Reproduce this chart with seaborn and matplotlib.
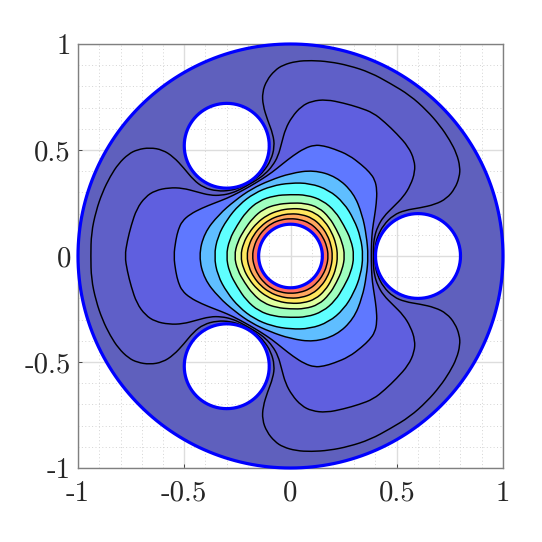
import numpy as np
import seaborn as sns
import matplotlib
matplotlib.use('Agg')
import matplotlib.pyplot as plt
from matplotlib.path import Path
from matplotlib.patches import PathPatch

sns.set_theme(style='ticks')
plt.rcParams['axes.unicode_minus'] = False

# contour lines, one 60 degree sector each (rest of the ring follows by symmetry)
line1_x = [.397, .398, .409, .437, .484, .539, .609, .68, .735, .774, .795, .798, .782, .75, .703, .641, .562, .47]
line1_y = [0, .044, .091, .146, .193, .216, .227, .243, .271, .318, .373, .42, .483, .546, .616, .687, .758, .814]
line2_x = [.39, .39, .395, .41, .437, .484, .531, .565, .586, .583, .555, .5, .445, .39]
line2_y = [0, .044, .091, .138, .185, .232, .279, .334, .397, .452, .515, .577, .63, .675]
line3_x = [.38, .381, .385, .395, .404, .407, .397, .372, .335, .275]
line3_y = [0, .06, .122, .185, .248, .311, .36, .395, .43, .476]

inner_angle = [0, 15, 30, 45, 60]
line4_r = [.366, .37, .39, .42, .432]
line5_r = [.342, .342, .345, .355, .36]
line6_r = [.30, .295, .29, .298, .303]
line7_r = [.256, .252, .25, .258, .265]
line8_r = [.222, .222, .224, .23, .235]
line9_r = [.198, .198, .20, .203, .206]
line10_r = [.178, .177, .177, .178, .18]

band_colors = ['#5F60BD', '#5F5FC8', '#5F5FDF', '#5F78FF', '#5FBEFF', '#5FFFFF',
               '#9FFFBF', '#DFFF9F', '#FFE75F', '#FFA75F', '#FF6E5F']

hole_x = [.6, -.3, -.3]
hole_y = [0, .52, -.52]
hole_r = .2
center_r = .15
disk_r = 1

ticks = [-1, -.5, 0, .5, 1]
tick_labels = ['-1', '-0.5', '0', '0.5', '1']


def full_ring(z):
    # sector -> closed curve, mirrored and turned by 120 degrees
    z = np.asarray(z)
    parts = []
    for k in range(3):
        turn = np.exp(2j * np.pi * k / 3)
        parts.append(z[:-1] * turn)
        parts.append(np.conj(z[:0:-1]) * turn * np.exp(2j * np.pi / 3))
    return np.concatenate(parts)


def spline_path(z):
    mid = (z + np.roll(z, -1)) / 2
    verts = [(mid[-1].real, mid[-1].imag)]
    codes = [Path.MOVETO]
    for p, m in zip(z, mid):
        verts += [(p.real, p.imag), (m.real, m.imag)]
        codes += [Path.CURVE3, Path.CURVE3]
    return Path(verts, codes)


def circle_path(x, y, r, flip=False):
    th = np.linspace(0, 2 * np.pi, 241)
    if flip:
        th = th[::-1]
    verts = np.column_stack([x + r * np.cos(th), y + r * np.sin(th)])
    return Path(verts)


sectors = [np.array(line1_x) + 1j * np.array(line1_y),
           np.array(line2_x) + 1j * np.array(line2_y),
           np.array(line3_x) + 1j * np.array(line3_y)]
for r in [line4_r, line5_r, line6_r, line7_r, line8_r, line9_r, line10_r]:
    sectors.append(np.array(r) * np.exp(1j * np.radians(inner_angle)))

fig = plt.figure(figsize=(5.42, 5.42), dpi=100)
ax = fig.add_axes([78 / 542, 1 - 468 / 542, 425 / 542, 424 / 542])
ax.set_xlim(-1, 1)
ax.set_ylim(-1, 1)

ax.set_xticks(np.arange(-1, 1.01, .1), minor=True)
ax.set_yticks(np.arange(-1, 1.01, .1), minor=True)
ax.grid(True, which='major', color='#dddddd', lw=1, zorder=0)
ax.grid(True, which='minor', color='#d4d4d4', lw=.7, ls=(0, (1, 2.5)), zorder=0)
ax.set_axisbelow(True)
ax.tick_params(which='minor', length=0)
ax.tick_params(which='major', direction='in', length=3, width=.7, color='#444444',
               labelcolor='#262626')
ax.tick_params(axis='x', pad=9)
ax.tick_params(axis='y', pad=5)
ax.set_xticks(ticks, tick_labels, fontfamily='cmr10', fontsize=20.8)
ax.set_yticks(ticks, tick_labels, fontfamily='cmr10', fontsize=20.8)
for s in ax.spines.values():
    s.set_color('#808080')
    s.set_linewidth(1)

# outer band has all the holes cut out, the others only the centre one
outer = [circle_path(0, 0, disk_r), circle_path(0, 0, center_r, flip=True)]
for x, y in zip(hole_x, hole_y):
    outer.append(circle_path(x, y, hole_r, flip=True))
ax.add_patch(PathPatch(Path.make_compound_path(*outer), fc=band_colors[0], ec='none', zorder=2))

for i, sector in enumerate(sectors):
    line = spline_path(full_ring(sector))
    band = Path.make_compound_path(line, circle_path(0, 0, center_r, flip=True))
    ax.add_patch(PathPatch(band, fc=band_colors[i + 1], ec='none', zorder=3 + i))
    ax.add_patch(PathPatch(line, fc='none', ec='black', lw=1.05, zorder=20))

for x, y, r in zip(hole_x + [0, 0], hole_y + [0, 0], [hole_r] * 3 + [center_r, disk_r]):
    ax.add_patch(PathPatch(circle_path(x, y, r), fc='none', ec='#0000ff', lw=2.3, zorder=30,
                           clip_on=False))

fig.savefig('out.png', dpi=100, facecolor='white')
